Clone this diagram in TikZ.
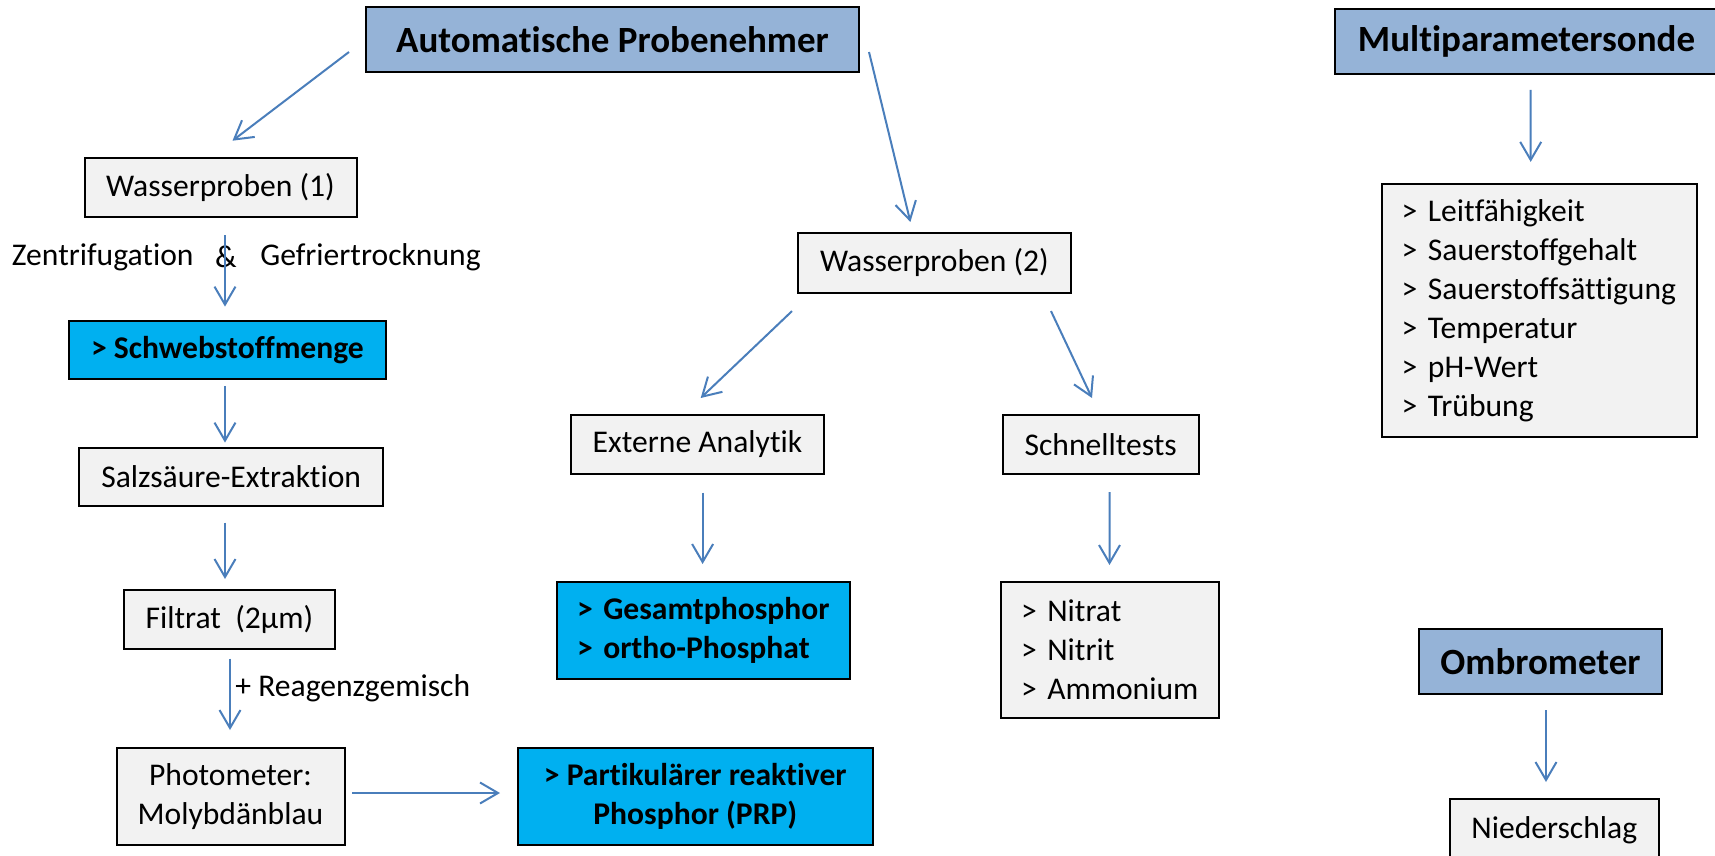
\documentclass[tikz,border=0pt]{standalone}
\usepackage{fontspec}
\setmainfont{Carlito}[Ligatures={NoCommon,NoContextual},Contextuals=NoAlternate]
\usetikzlibrary{arrows.meta,calc}
\definecolor{hdr}{HTML}{95B3D7}
\definecolor{cyanbox}{HTML}{00B0F0}
\definecolor{graybox}{HTML}{F2F2F2}
\definecolor{arrblue}{HTML}{4A7EBB}
\begin{document}
\begin{tikzpicture}[x=0.5pt,y=-0.5pt,
  base/.style={draw=black, line width=1pt, inner sep=0pt, font=\fontsize{15.8}{19.5}\selectfont, align=center},
  hdrbox/.style={base, fill=hdr, font=\fontsize{18.5}{22}\selectfont\bfseries},
  graynode/.style={base, fill=graybox},
  cyannode/.style={base, fill=cyanbox, font=\fontsize{15.8}{19.5}\selectfont\bfseries},
  listtext/.style={align=left, inner xsep=10pt},
  lbl/.style={font=\fontsize{15.8}{19.5}\selectfont, inner sep=0pt},
  arr/.style={draw=arrblue, line width=1pt, -{Straight Barb[length=9pt,width=10.5pt]}}
]
\useasboundingbox (0,0) rectangle (1715,856);
\clip (0,0) rectangle (1715,856);

% nodes
\node[hdrbox, minimum width=246.5pt, minimum height=32.5pt] (A) at (612.5,39.5) {Automatische Probenehmer};
\node[graynode, minimum width=136pt, minimum height=29.5pt] (W1) at (220.5,187.5) {Wasserproben (1)};
\node[cyannode, minimum width=158.5pt, minimum height=29pt] (S) at (227.5,349.6) {> Schwebstoffmenge};
\node[graynode, minimum width=152.2pt, minimum height=29pt] (Sz) at (231.2,477) {Salzsäure-Extraktion};
\node[graynode, minimum width=105.4pt, minimum height=29.3pt] (F) at (229.4,619.3) {Filtrat~~(2µm)};
\node[graynode, minimum width=114pt, minimum height=48.5pt] (Ph) at (230.5,796.5) {Photometer:\\Molybdänblau};
\node[cyannode, minimum width=177.3pt, minimum height=48.5pt] (PRP) at (695.3,796.5) {> Partikulärer reaktiver\\Phosphor (PRP)};
\node[graynode, minimum width=136.4pt, minimum height=29.9pt] (W2) at (934.4,262.9) {Wasserproben (2)};
\node[graynode, minimum width=126.5pt, minimum height=29.5pt] (E) at (697.5,444.5) {Externe Analytik};
\node[graynode, minimum width=97.8pt, minimum height=29.5pt] (Sn) at (1100.7,444.5) {Schnelltests};
\node[cyannode, listtext, text width=126.5pt, minimum height=48.4pt] (G) at (703.5,630.4) {> Gesamtphosphor\\> ortho-Phosphat};
\node[graynode, listtext, text width=88.8pt, minimum height=68pt] (N) at (1109.8,649.7) {> Nitrat\\> Nitrit\\> Ammonium};
\node[hdrbox, minimum width=191.5pt, minimum height=32.3pt] (M) at (1526.5,41.7) {Multiparametersonde};
\node[graynode, listtext, text width=137.8pt, minimum height=126.4pt] (L) at (1539.5,310.3) {> Leitfähigkeit\\> Sauerstoffgehalt\\> Sauerstoffsättigung\\> Temperatur\\> pH-Wert\\> Trübung};
\node[hdrbox, minimum width=121.5pt, minimum height=32.5pt] (O) at (1540.5,661.5) {Ombrometer};
\node[graynode, minimum width=104.3pt, minimum height=31pt] (Nd) at (1554.3,830) {Niederschlag};

% free labels
\node[lbl, anchor=west] (zt) at (11.5,257) {Zentrifugation};
\node[lbl] (amp) at (226,257) {\&};
\node[lbl, anchor=west] (gt) at (260,257) {Gefriertrocknung};
\node[lbl, anchor=west] (rg) at (235,688) {+ Reagenzgemisch};

% connectors
\draw[arr] ($(A.west)+(-16,12.5)$) -- ($(W1.north)+(12,-16.3)$);
\draw[arr] ($(A.east)+(9,12.5)$) -- ($(W2.north)+(-24,-10)$);
\draw[arr] ($(W1.south)+(4.5,17)$) -- ($(S.north)+(-2.5,-13)$);
\draw[arr] ($(S.south)+(-2.5,6.3)$) -- ($(Sz.north)+(-6.2,-4.4)$);
\draw[arr] ($(Sz.south)+(-6.2,15.6)$) -- ($(F.north)+(-4.4,-10)$);
\draw[arr] ($(F.south)+(0.6,9)$) -- ($(Ph.north)+(-0.5,-17)$);
\draw[arr] ($(Ph.east)+(6.6,-3.5)$) -- ($(PRP.west)+(-17,-3.5)$);
\draw[arr] ($(W2.south west)+(-5,17.3)$) -- ($(E.north)+(3.2,-16)$);
\draw[arr] ($(W2.south east)+(-20.8,17.3)$) -- ($(Sn.north)+(-8.7,-16)$);
\draw[arr] ($(E.south)+(5.1,17.5)$) -- ($(G.north)+(-0.9,-17)$);
\draw[arr] ($(Sn.south)+(8.8,17)$) -- ($(N.north)+(-0.3,-15.7)$);
\draw[arr] ($(M.south)+(4.2,15)$) -- ($(L.north)+(-8.8,-21)$);
\draw[arr] ($(O.south)+(5.5,15)$) -- ($(Nd.north)+(-8.3,-16)$);
\end{tikzpicture}
\end{document}
